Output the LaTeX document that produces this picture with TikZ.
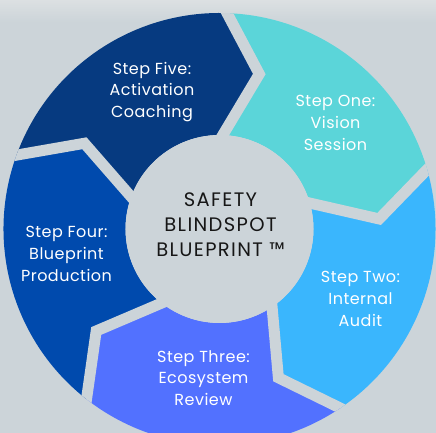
\documentclass[tikz,border=0pt]{standalone}
\usepackage{fontspec}
\setmainfont{Poppins}
\usepackage{tikz}
\usetikzlibrary{calc}
\usepackage{xcolor}
\definecolor{MistGray}{HTML}{CCD4D9}
\definecolor{HazeGray}{HTML}{DCE0E2}
\definecolor{StepOneTeal}{HTML}{5BD5D9}
\definecolor{StepTwoSky}{HTML}{3AB6FD}
\definecolor{StepThreeIris}{HTML}{5271FF}
\definecolor{StepFourBlue}{HTML}{004AAD}
\definecolor{StepFiveNavy}{HTML}{063A80}
\definecolor{HubInk}{HTML}{161616}

\begin{document}
\begin{tikzpicture}[
  x=1pt, y=1pt,
  gap/.style={draw=MistGray, line width=11pt, line join=miter},
  steptext/.style={
    text=white, align=center,
    font=\fontsize{16}{21.7}\selectfont\addfontfeatures{LetterSpace=3}
  },
  hubtext/.style={
    text=HubInk, align=center,
    font=\fontsize{19.5}{25}\selectfont\addfontfeatures{LetterSpace=7}
  }
]
  \useasboundingbox (-219.5,-204) rectangle (216.5,229);
  \clip (-219.5,-204) rectangle (216.5,229);
  \fill[MistGray] (-219.5,-204) rectangle (216.5,229);
  \shade[top color=HazeGray, bottom color=MistGray] (-219.5,207) rectangle (216.5,229);

  % the five arrow segments of the ring, clockwise
  \fill[StepOneTeal] (88:216) arc[start angle=88, end angle=16, radius=216] -- (3.6:160)
    -- (16:94) arc[start angle=16, end angle=88, radius=94] -- (75.6:160) -- cycle;
  \fill[StepTwoSky] (16:216) arc[start angle=16, end angle=-56, radius=216] -- (-68.4:160)
    -- (-56:94) arc[start angle=-56, end angle=16, radius=94] -- (3.6:160) -- cycle;
  \fill[StepThreeIris] (-56:216) arc[start angle=-56, end angle=-128, radius=216] -- (-140.4:160)
    -- (-128:94) arc[start angle=-128, end angle=-56, radius=94] -- (-68.4:160) -- cycle;
  \fill[StepFourBlue] (-128:216) arc[start angle=-128, end angle=-200, radius=216] -- (-212.4:160)
    -- (-200:94) arc[start angle=-200, end angle=-128, radius=94] -- (-140.4:160) -- cycle;
  \fill[StepFiveNavy] (-200:216) arc[start angle=-200, end angle=-272, radius=216] -- (-284.4:160)
    -- (-272:94) arc[start angle=-272, end angle=-200, radius=94] -- (-212.4:160) -- cycle;

  % gaps between the segments, run on a little past the ring
  \begin{scope}
    \clip (0,0) circle[radius=216];
    \draw[gap] ($(75.6:160)!1.2!(88:94)$) -- (75.6:160) -- ($(75.6:160)!1.2!(88:216)$);
    \draw[gap] ($(3.6:160)!1.2!(16:94)$) -- (3.6:160) -- ($(3.6:160)!1.2!(16:216)$);
    \draw[gap] ($(-68.4:160)!1.2!(-56:94)$) -- (-68.4:160) -- ($(-68.4:160)!1.2!(-56:216)$);
    \draw[gap] ($(-140.4:160)!1.2!(-128:94)$) -- (-140.4:160) -- ($(-140.4:160)!1.2!(-128:216)$);
    \draw[gap] ($(-212.4:160)!1.2!(-200:94)$) -- (-212.4:160) -- ($(-212.4:160)!1.2!(-200:216)$);
  \end{scope}
  \fill[MistGray] (0,0) circle[radius=94];

  \node[hubtext] (hub) at (1,4) {SAFETY\\BLINDSPOT\\BLUEPRINT ™};
  \node[steptext] (one) at (116,106) {Step One:\\Vision\\Session};
  \node[steptext] (two) at (141,-70) {Step Two:\\Internal\\Audit};
  \node[steptext] (three) at (-16,-149) {Step Three:\\Ecosystem\\Review};
  \node[steptext] (four) at (-153,-25) {Step Four:\\Blueprint\\Production};
  \node[steptext] (five) at (-67.5,137) {Step Five:\\Activation\\Coaching};
\end{tikzpicture}
\end{document}
